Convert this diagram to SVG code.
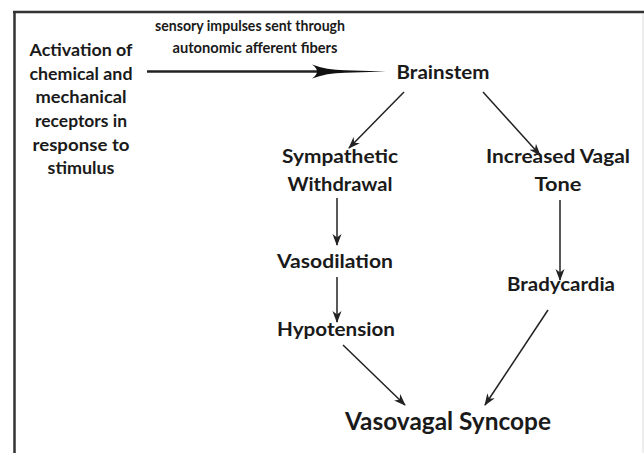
<svg xmlns="http://www.w3.org/2000/svg" width="644" height="453" viewBox="0 0 644 453">
<style>
text{font-family:Lato,"Liberation Sans",sans-serif;font-weight:700;fill:#1a1a1a;text-anchor:middle}
.lbl{font-size:19.5px}
.side{font-size:17.5px}
.edge{font-size:14.5px}
.big{font-size:24.5px}
.conn line{stroke:#222;stroke-width:1.5;fill:none}
</style>
<defs>
<marker id="ah" viewBox="0 0 12 10" refX="11" refY="5" markerWidth="12" markerHeight="10" markerUnits="userSpaceOnUse" orient="auto">
<path d="M0,0.5 L12,5 L0,9.5 L3.5,5 Z" fill="#222"/>
</marker>
</defs>
<rect width="644" height="453" fill="#fff"/>
<g id="frame">
<line x1="13" y1="12" x2="644" y2="12" stroke="#333" stroke-width="2.5"/>
<line x1="14.5" y1="11" x2="14.5" y2="453" stroke="#333" stroke-width="2.5"/>
<line x1="643" y1="14" x2="643" y2="453" stroke="#ddd" stroke-width="1"/>
</g>
<g id="stimulus">
<text class="side" x="81" y="56" textLength="103" lengthAdjust="spacingAndGlyphs">Activation of</text>
<text class="side" x="81" y="79.5" textLength="103" lengthAdjust="spacingAndGlyphs">chemical and</text>
<text class="side" x="81" y="103" textLength="91" lengthAdjust="spacingAndGlyphs">mechanical</text>
<text class="side" x="81" y="127" textLength="92" lengthAdjust="spacingAndGlyphs">receptors in</text>
<text class="side" x="81" y="150.5" textLength="97" lengthAdjust="spacingAndGlyphs">response to</text>
<text class="side" x="81" y="174" textLength="67" lengthAdjust="spacingAndGlyphs">stimulus</text>
</g>
<g id="brainstem"><text class="lbl" x="443" y="79" textLength="93" lengthAdjust="spacingAndGlyphs">Brainstem</text></g>
<g id="sympathetic">
<text class="lbl" x="340" y="163" textLength="116" lengthAdjust="spacingAndGlyphs">Sympathetic</text>
<text class="lbl" x="340" y="191" textLength="105" lengthAdjust="spacingAndGlyphs">Withdrawal</text>
</g>
<g id="vagal">
<text class="lbl" x="558" y="163" textLength="144" lengthAdjust="spacingAndGlyphs">Increased Vagal</text>
<text class="lbl" x="558" y="191" textLength="47" lengthAdjust="spacingAndGlyphs">Tone</text>
</g>
<g id="vasodilation"><text class="lbl" x="335" y="268" textLength="116" lengthAdjust="spacingAndGlyphs">Vasodilation</text></g>
<g id="hypotension"><text class="lbl" x="336" y="336" textLength="118" lengthAdjust="spacingAndGlyphs">Hypotension</text></g>
<g id="bradycardia"><text class="lbl" x="561" y="291" textLength="108" lengthAdjust="spacingAndGlyphs">Bradycardia</text></g>
<g id="syncope"><text class="big" x="448" y="430" textLength="206" lengthAdjust="spacingAndGlyphs">Vasovagal Syncope</text></g>
<g id="connectors" class="conn">
<g id="afferent">
<line x1="147" y1="71.5" x2="330" y2="71.5" style="stroke-width:2.5"/>
<path d="M312,64.5 Q326,70 345,70.3 L386,71.5 L345,72.7 Q326,73 312,78.5 Q322,71.5 312,64.5 Z" fill="#111"/>
<text class="edge" x="250" y="31" textLength="190" lengthAdjust="spacingAndGlyphs">sensory impulses sent through</text>
<text class="edge" x="255" y="53" textLength="165" lengthAdjust="spacingAndGlyphs">autonomic afferent fibers</text>
</g>
<line x1="404" y1="92" x2="349" y2="148" marker-end="url(#ah)"/>
<line x1="483" y1="92" x2="540" y2="155" marker-end="url(#ah)"/>
<line x1="337" y1="198" x2="337" y2="245" marker-end="url(#ah)"/>
<line x1="337" y1="277" x2="337" y2="322" marker-end="url(#ah)"/>
<line x1="560" y1="200" x2="560" y2="280" marker-end="url(#ah)"/>
<line x1="343" y1="345" x2="405" y2="405" marker-end="url(#ah)"/>
<line x1="548" y1="310" x2="485" y2="405" marker-end="url(#ah)"/>
</g>
</svg>
